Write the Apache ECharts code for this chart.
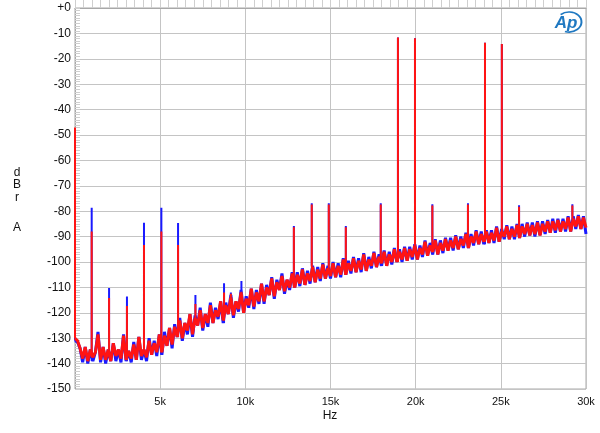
<!DOCTYPE html>
<html>
<head>
<meta charset="utf-8">
<script src="https://cdn.jsdelivr.net/npm/echarts@6/dist/echarts.min.js"></script>
<style>
html,body{margin:0;padding:0;background:#fff;}
#chart{width:600px;height:433px;}
</style>
</head>
<body>
<div id="chart"></div>
<script>
// ---- data ----
const xTickLabels = ['', '5k', '10k', '15k', '20k', '25k', '30k'];
const STEP = 150;            // FFT bin spacing used for the noise arrays (Hz)
const F0 = 0;                // first noise frequency

// spike (tone / distortion product) frequencies in Hz
const spikeFreqs = [0, 980, 2000, 3050, 4050, 5070, 6050, 7070, 8750, 9150, 9770,
  12850, 13900, 14900, 15900, 17950, 18960, 19960, 20980, 23070, 24070, 25060, 26070, 29200];
const redPeaks = [-47, -88, -114.2, -117.3, -93.3, -88, -93.3, -116.5, -112, -112.5, -111.7,
  -86.3, -77.4, -77.4, -86.3, -77.4, -11.6, -11.9, -77.8, -77.4, -13.7, -14.2, -78.2, -77.8];
const bluePeaks = [-48, -78.6, -110.2, -113.6, -84.5, -78.6, -84.6, -113, -108.4, -112, -107.5,
  -85.8, -76.9, -76.9, -85.8, -76.9, -11.6, -11.9, -77.3, -76.9, -13.7, -14.2, -77.7, -77.3];

// red channel noise floor, f = 0, 150, 300 ... 30000 Hz
const redNoise = [-130,
 -131,-134,-138,-133.5,-139,-134.5,-137.5,-135.5,-128.5,-138.5,
 -133.5,-138.5,-134.5,-139,-132,-137,-134.5,-138,-129,-138.5,
 -135,-138,-132.5,-138.5,-129.5,-137,-134.5,-137.5,-131,-136.5,
 -132,-135.5,-128.5,-135.5,-129,-133,-126,-132.5,-125.5,-129.5,
 -123,-130,-124,-127,-120.5,-128.5,-122,-125,-119,-126,
 -120.5,-124,-117,-124,-119,-121.5,-115.5,-123,-117,-120.5,
 -114,-121,-115.5,-118.5,-112,-120,-114.5,-117,-110.5,-117.5,
 -112,-115.5,-108.5,-115.5,-110,-113,-106.5,-113.5,-108,-111,
 -105.5,-111.5,-107,-110,-104.5,-110,-105,-108.5,-103,-109,
 -104.5,-107.5,-102,-108,-103,-106.5,-101,-106.5,-102.5,-105.5,
 -100.5,-106,-101.5,-105,-99,-105,-100.5,-103.5,-98.5,-104,
 -99.5,-103,-97,-103.5,-99,-101.5,-96.5,-102,-98,-100.5,
 -96,-101.5,-97,-100,-95,-100,-96,-99,-94.5,-99.5,
 -95,-98,-93.5,-99,-94.5,-97,-92,-97.5,-93.5,-96,
 -91.5,-97,-92.5,-95.5,-91,-95.5,-91.5,-94.5,-90,-95,
 -91,-93.5,-89,-94.5,-90,-92.5,-88,-93,-89,-92,
 -88,-92.5,-88.5,-91.5,-86.5,-92,-88,-90,-86,-91,
 -87,-90,-85.5,-90.5,-86,-89,-85,-89.5,-85.5,-89,
 -84.5,-89.5,-85,-88,-84,-88.5,-84,-87.5,-83.5,-88,
 -84,-87,-82.5,-88,-83,-86,-82,-87,-82.5,-86.5];

// blue channel noise floor, same bins
const blueNoise = [-131,
 -131.5,-134,-139.5,-133.5,-140,-134.5,-139,-135.5,-127.5,-139.5,
 -133.5,-140,-134.5,-139,-132,-139,-134.5,-139.5,-128.5,-139,
 -135,-139.5,-131.5,-138.5,-129.5,-138.5,-134.5,-139,-130,-136.5,
 -131,-137,-128.5,-136.5,-127.5,-133,-126,-134,-124.5,-129.5,
 -122,-131,-124,-128.5,-120.5,-129.5,-121,-125,-118,-127,
 -120.5,-125.5,-116,-124,-118,-122.5,-115.5,-124,-116,-120.5,
 -113,-122,-115.5,-119.5,-111,-120,-113.5,-118,-110.5,-118.5,
 -111,-116.5,-108.5,-116.5,-109,-113,-106,-114.5,-107,-111,
 -104.5,-112.5,-107,-111,-104,-110,-104,-109.5,-102.5,-109,
 -103.5,-108.5,-101.5,-108,-102,-107.5,-100.5,-106.5,-101.5,-106.5,
 -100,-106,-100.5,-106,-98.5,-105,-99.5,-104.5,-98,-104,
 -98.5,-104,-96.5,-103.5,-98,-102.5,-96,-102,-97,-101.5,
 -95.5,-101.5,-96,-101,-94.5,-100,-95,-100,-94,-99.5,
 -94,-99,-93,-99,-93.5,-98,-91.5,-97.5,-92.5,-97,
 -91,-97,-91.5,-96.5,-90.5,-95.5,-90.5,-95.5,-89.5,-95,
 -90,-94.5,-88.5,-94.5,-89,-93.5,-87.5,-93,-88,-93,
 -87.5,-92.5,-87.5,-92.5,-86,-92,-87,-91,-85.5,-91,
 -86,-91,-85,-90.5,-85,-90,-84.5,-89.5,-84.5,-90,
 -84,-89.5,-84,-89,-83.5,-88.5,-83,-88.5,-83,-88,
 -83,-88,-82,-88,-82,-87,-81.5,-87,-82,-89];

// ---- build series data ----
function noiseData(noise) {
  return noise.map((v, i) => [F0 + i * STEP, v]);
}
function spikeData(noise, peaks) {
  const out = [];
  spikeFreqs.forEach((f, i) => {
    const base = noise[Math.round((f - F0) / STEP)];
    out.push([f, base], [f, peaks[i]], [f, '-']);
  });
  return out;
}

const FONT = '"Liberation Sans", Arial, sans-serif';
const BLUE = '#1a1aff', RED = '#ff1414';
const noiseStyle = c => ({color: c, width: 3, join: 'bevel'});
const spikeStyle = c => ({color: c, width: 2});
const base = {type: 'line', showSymbol: false, symbol: 'none', sampling: 'none', clip: false, connectNulls: false};

const chart = echarts.init(document.getElementById('chart'), null, {renderer: 'canvas'});
chart.setOption({
  animation: false,
  backgroundColor: '#fff',
  grid: {left: 75, right: 14, top: 8, bottom: 44, show: true, borderColor: '#a8a8a8', borderWidth: 1},
  xAxis: {
    type: 'value', min: 0, max: 30000, interval: 5000,
    axisLine: {show: true, lineStyle: {color: '#a8a8a8'}},
    axisTick: {show: true, inside: true, length: 13, lineStyle: {color: '#cfcfcf'}},
    minorTick: {show: true, splitNumber: 10, length: 13, lineStyle: {color: '#cfcfcf'}},
    splitLine: {show: true, lineStyle: {color: '#c4c4c4', width: 1}},
    axisLabel: {
      color: '#111', fontFamily: FONT, fontSize: 11, margin: 7,
      formatter: v => xTickLabels[Math.round(v / 5000)] || ''
    }
  },
  yAxis: {
    type: 'value', min: -150, max: 0, interval: 10,
    axisLine: {show: true, lineStyle: {color: '#a8a8a8'}},
    axisTick: {show: true, inside: true, length: 5, lineStyle: {color: '#cfcfcf'}},
    minorTick: {show: true, splitNumber: 10, length: 5, lineStyle: {color: '#cfcfcf'}},
    splitLine: {show: true, lineStyle: {color: '#c4c4c4', width: 1}},
    axisLabel: {
      color: '#111', fontFamily: FONT, fontSize: 12, margin: 4,
      formatter: v => (v === 0 ? '+0' : String(v))
    }
  },
  series: [
    Object.assign({}, base, {data: spikeData(blueNoise, bluePeaks), lineStyle: spikeStyle(BLUE), z: 2}),
    Object.assign({}, base, {data: noiseData(blueNoise), lineStyle: noiseStyle(BLUE), z: 2}),
    Object.assign({}, base, {data: spikeData(redNoise, redPeaks), lineStyle: spikeStyle(RED), z: 3}),
    Object.assign({}, base, {data: noiseData(redNoise), lineStyle: noiseStyle(RED), z: 3})
  ],
  graphic: [
    {type: 'text', x: 17, y: 166, style: {text: 'd\nB\nr', fill: '#111', font: '12px ' + FONT, textAlign: 'center', textVerticalAlign: 'top', lineHeight: 12.5}},
    {type: 'text', x: 17, y: 228, style: {text: 'A', fill: '#111', font: '12px ' + FONT, textAlign: 'center', textVerticalAlign: 'middle'}},
    {type: 'text', x: 330, y: 416, style: {text: 'Hz', fill: '#111', font: '12px ' + FONT, textAlign: 'center', textVerticalAlign: 'middle'}},
    {type: 'arc', shape: {cx: 569, cy: 22, r: 10, startAngle: -2.3, endAngle: 1.9, clockwise: true},
     scaleX: 1.25, originX: 569, originY: 22,
     style: {stroke: '#1f78c1', fill: null, lineWidth: 1.6}},
    {type: 'text', x: 566, y: 23, style: {text: 'Ap', fill: '#1f78c1', font: 'italic bold 17px ' + FONT, textAlign: 'center', textVerticalAlign: 'middle'}}
  ]
});
</script>
</body>
</html>
